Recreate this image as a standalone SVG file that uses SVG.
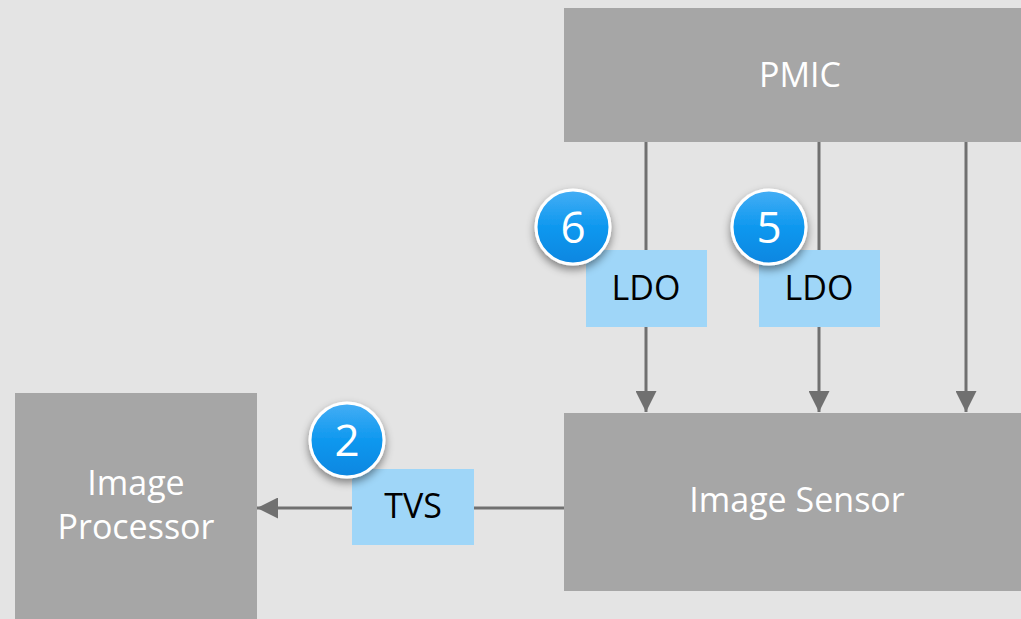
<svg xmlns="http://www.w3.org/2000/svg" width="1021" height="619" viewBox="0 0 1021 619">
<style>
.blk{fill:#a6a6a6}
.wt{fill:#ffffff;font-family:"Open Sans","Noto Sans",sans-serif;font-size:34px;text-anchor:middle}
.bx{fill:#9fd6f8}
.bt{fill:#000000;font-family:"Open Sans","Noto Sans",sans-serif;font-size:34px;text-anchor:middle}
.ln{stroke:#707070;stroke-width:3;fill:none}
.num{fill:#ffffff;font-family:"Open Sans","Noto Sans",sans-serif;font-size:44px;text-anchor:middle}
.circ{fill:url(#bg);stroke:#ffffff;stroke-width:3;filter:url(#sh)}
</style>
<defs>
<linearGradient id="bg" x1="0" y1="0" x2="0" y2="1">
<stop offset="0" stop-color="#45aef5"/>
<stop offset="0.5" stop-color="#0e98ef"/>
<stop offset="1" stop-color="#0786e0"/>
</linearGradient>
<filter id="sh" x="-30%" y="-30%" width="160%" height="170%">
<feDropShadow dx="0" dy="4" stdDeviation="4" flood-color="#000" flood-opacity="0.45"/>
</filter>
<marker id="ah" viewBox="0 0 10 10" refX="10" refY="5" markerWidth="7" markerHeight="7" markerUnits="strokeWidth" orient="auto">
<path d="M0,0 L10,5 L0,10 z" fill="#707070"/>
</marker>
</defs>
<rect width="1021" height="619" fill="#e4e4e4"/>
<g id="connectors">
<line class="ln" x1="646" y1="142" x2="646" y2="250"/>
<line class="ln" x1="646" y1="327" x2="646" y2="412" marker-end="url(#ah)"/>
<line class="ln" x1="819" y1="142" x2="819" y2="250"/>
<line class="ln" x1="819" y1="327" x2="819" y2="412" marker-end="url(#ah)"/>
<line class="ln" x1="966" y1="142" x2="966" y2="412" marker-end="url(#ah)"/>
<line class="ln" x1="564" y1="508" x2="474" y2="508"/>
<line class="ln" x1="352" y1="508" x2="257" y2="508" marker-end="url(#ah)"/>
</g>
<g id="pmic">
<rect class="blk" x="564" y="8" width="457" height="134"/>
<text class="wt" x="800" y="87">PMIC</text>
</g>
<g id="image-sensor">
<rect class="blk" x="564" y="413" width="457" height="178"/>
<text class="wt" x="797" y="512">Image Sensor</text>
</g>
<g id="image-processor">
<rect class="blk" x="15" y="393" width="242" height="226"/>
<text class="wt" x="136" y="495">Image</text>
<text class="wt" x="136" y="539">Processor</text>
</g>
<g id="ldo6">
<rect class="bx" x="586" y="250" width="121" height="77"/>
<text class="bt" x="646" y="300">LDO</text>
</g>
<g id="ldo5">
<rect class="bx" x="759" y="250" width="121" height="77"/>
<text class="bt" x="819" y="300">LDO</text>
</g>
<g id="tvs">
<rect class="bx" x="352" y="469" width="122" height="76"/>
<text class="bt" x="413" y="518">TVS</text>
</g>
<g id="badge6">
<circle class="circ" cx="573" cy="227" r="37"/>
<text class="num" x="573" y="243">6</text>
</g>
<g id="badge5">
<circle class="circ" cx="769" cy="227" r="37"/>
<text class="num" x="769" y="243">5</text>
</g>
<g id="badge2">
<circle class="circ" cx="347" cy="440" r="37"/>
<text class="num" x="347" y="456">2</text>
</g>
</svg>
